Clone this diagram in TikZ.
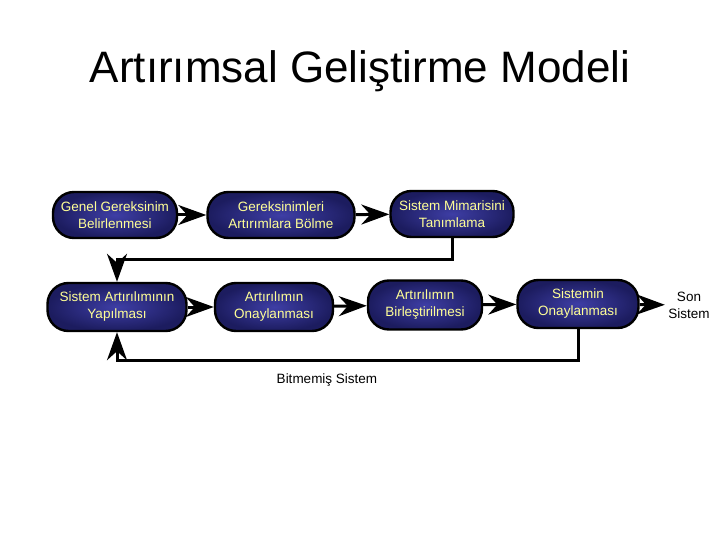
\documentclass[tikz,border=0pt]{standalone}
\usepackage{fontspec}
\setmainfont{Liberation Sans}
\usetikzlibrary{arrows.meta}
\definecolor{boxdark}{RGB}{28,28,95}
\definecolor{boxlight}{RGB}{62,62,165}
\definecolor{boxtext}{RGB}{255,255,150}
\tikzset{
  stage/.style={draw=black, line width=2.4pt, shading=radial, inner color=boxlight, outer color=boxdark,
    text=boxtext, rounded corners=21pt, minimum height=46pt, align=center,
    font=\fontsize{13.5}{17}\selectfont, inner xsep=2pt},
  flow/.style={line width=3pt, -{Stealth[length=28pt,width=20pt,inset=9pt]}},
  plain/.style={align=center, font=\fontsize{13.5}{17}\selectfont},
}
\begin{document}
\begin{tikzpicture}[x=1pt,y=-1pt]
\useasboundingbox (0,0) rectangle (720,540);
\node[anchor=base] (title) at (360,83) {\fontsize{44}{48}\selectfont Artırımsal Geliştirme Modeli};
% ilk satir
\node[stage, minimum width=124pt] (genel) at (115,215) {Genel Gereksinim\\Belirlenmesi};
\node[stage, minimum width=147pt] (bolme) at (281,215) {Gereksinimleri\\Artırımlara Bölme};
\node[stage, minimum width=123pt] (mimari) at (452,214) {Sistem Mimarisini\\Tanımlama};
% ikinci satir
\node[stage, minimum width=139pt, minimum height=48pt] (yapim) at (117,307) {Sistem Artırılımının\\Yapılması};
\node[stage, minimum width=118pt, minimum height=48pt] (onay) at (274,307) {Artırılımın\\Onaylanması};
\node[stage, minimum width=114pt, minimum height=49pt] (birles) at (425,305) {Artırılımın\\Birleştirilmesi};
\node[stage, minimum width=121pt, minimum height=48pt] (sonay) at (578,304) {Sistemin\\Onaylanması};
\node[plain] (son) at (689,305) {Son\\Sistem};
\node[plain] (bitmemis) at (327,380) {Bitmemiş Sistem};
% oklar
\draw[flow] (genel) -- (bolme);
\draw[flow] (bolme) -- (mimari);
\draw[flow] (mimari.south) -- ++(0,21) -| (yapim.north);
\draw[flow] (yapim) -- (onay);
\draw[flow] (onay) -- (birles);
\draw[flow] (birles) -- (sonay);
\draw[flow] (sonay) -- (son);
\draw[flow] (sonay.south) -- ++(0,31) -| (yapim.south);
\end{tikzpicture}
\end{document}
